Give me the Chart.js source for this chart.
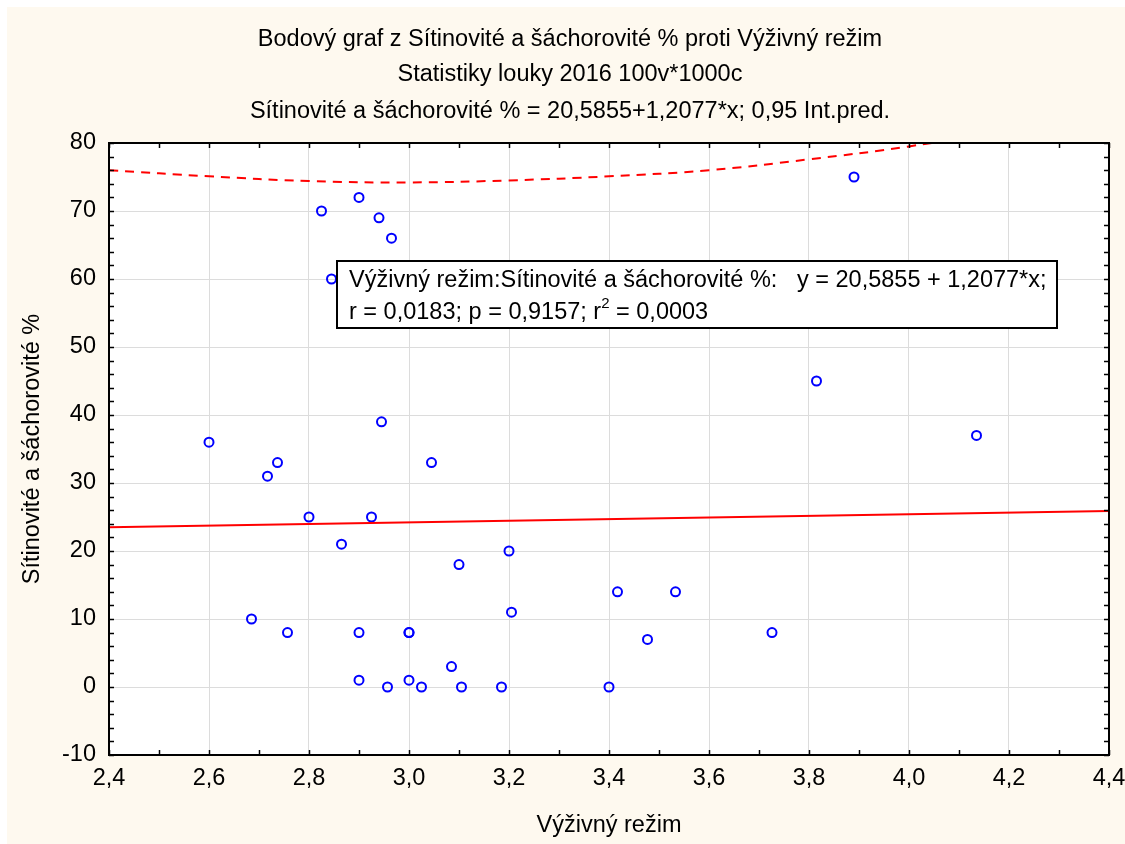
<!DOCTYPE html>
<html>
<head>
<meta charset="utf-8">
<script src="https://cdn.jsdelivr.net/npm/chart.js@4.4.1/dist/chart.umd.min.js"></script>
<style>
  html, body { margin: 0; padding: 0; background: #fff; }
  canvas { display: block; }
</style>
</head>
<body>
<canvas id="scatterChart" width="1125" height="844"></canvas>
<script>
// chart texts
const titleLines = [
  'Bodový graf z Sítinovité a šáchorovité % proti Výživný režim',
  'Statistiky louky 2016 100v*1000c',
  'Sítinovité a šáchorovité % = 20,5855+1,2077*x; 0,95 Int.pred.'
];
const xTitle = 'Výživný režim';
const yTitle = 'Sítinovité a šáchorovité %';
const statLine1 = 'Výživný režim:Sítinovité a šáchorovité %:   y = 20,5855 + 1,2077*x;';
const statLine2 = 'r = 0,0183; p = 0,9157; r';
const statSup = '2';
const statLine2End = ' = 0,0003';

// axis ranges
const xMin = 2.4, xMax = 4.4, xStep = 0.2;
const yMin = -10, yMax = 80, yStep = 10;

const xVals = [2.825, 2.90, 2.94, 2.965, 2.845, 3.89, 2.60, 2.945, 2.737, 2.717,
               3.045, 2.80, 2.925, 2.865, 3.10, 3.20, 2.685, 3.205, 2.757, 2.90,
               3.00, 3.00, 3.085, 2.90, 3.00, 2.957, 3.025, 3.105, 3.185, 3.815,
               4.135, 3.417, 3.533, 3.477, 3.726, 3.40];
const yVals = [70, 72, 69, 66, 60, 75, 36, 39, 33, 31,
               33, 25, 25, 21, 18, 20, 10, 11, 8, 8,
               8, 8, 3, 1, 1, 0, 0, 0, 0, 45,
               37, 14, 14, 7, 8, 0];

// fitted line ends
const fitX = [2.4, 4.4];
const fitY = [23.5, 25.9];

// upper 0.95 prediction band
const bandX = [2.4, 2.6, 2.8, 3.0, 3.2, 3.4, 3.6, 3.8, 4.0, 4.2, 4.4];
const bandY = [76.0, 75.1, 74.4, 74.2, 74.5, 75.1, 76.0, 77.6, 79.5, 82.0, 85.0];

const FONT = '"Liberation Sans", Arial, sans-serif';
const FS = 23.5;
const cream = '#fef9ef';

const pairs = (xs, ys) => xs.map((x, i) => ({ x: x, y: ys[i] }));
const fmt = v => (Math.round(v * 10) / 10).toFixed(1).replace('.', ',');

const backgroundPlugin = {
  id: 'bg',
  beforeDraw(chart) {
    const ctx = chart.ctx, a = chart.chartArea;
    ctx.save();
    ctx.fillStyle = '#ffffff';
    ctx.fillRect(0, 0, chart.width, chart.height);
    ctx.fillStyle = cream;
    ctx.fillRect(7, 7, chart.width - 7, chart.height - 7);
    ctx.fillStyle = '#ffffff';
    ctx.fillRect(a.left, a.top, a.right - a.left, a.bottom - a.top);
    // titles
    ctx.fillStyle = '#000';
    ctx.font = FS + 'px ' + FONT;
    ctx.textAlign = 'center';
    ctx.textBaseline = 'middle';
    const titleY = [40, 75, 112];
    titleLines.forEach((t, i) => ctx.fillText(t, 570, titleY[i]));
    ctx.restore();
  }
};

const framePlugin = {
  id: 'frame',
  afterDatasetsDraw(chart) {
    const ctx = chart.ctx, a = chart.chartArea;
    const xs = chart.scales.x, ys = chart.scales.y;
    ctx.save();
    // inner tick marks
    ctx.strokeStyle = '#000';
    ctx.lineWidth = 1.5;
    ctx.beginPath();
    for (let i = 0; i <= 20; i++) {
      const px = Math.round(xs.getPixelForValue(xMin + i * 0.1)) + 0.5;
      ctx.moveTo(px, a.bottom); ctx.lineTo(px, a.bottom - 5);
      ctx.moveTo(px, a.top); ctx.lineTo(px, a.top + 5);
    }
    for (let i = 0; i <= 45; i++) {
      const py = Math.round(ys.getPixelForValue(yMin + i * 2)) + 0.5;
      ctx.moveTo(a.left, py); ctx.lineTo(a.left + 5, py);
      ctx.moveTo(a.right, py); ctx.lineTo(a.right - 5, py);
    }
    ctx.stroke();
    // frame
    ctx.lineWidth = 2;
    ctx.strokeRect(a.left, a.top, a.right - a.left, a.bottom - a.top);

    // statistics box
    const bx = a.left + 228, by = a.top + 118, bw = 720, bh = 67;
    ctx.fillStyle = '#fff';
    ctx.fillRect(bx, by, bw, bh);
    ctx.strokeRect(bx, by, bw, bh);
    ctx.fillStyle = '#000';
    ctx.font = FS + 'px ' + FONT;
    ctx.textBaseline = 'middle';
    ctx.textAlign = 'left';
    ctx.fillText(statLine1, bx + 12, by + 20);
    ctx.fillText(statLine2, bx + 12, by + 52);
    let w = ctx.measureText(statLine2).width;
    ctx.font = '15px ' + FONT;
    ctx.fillText(statSup, bx + 12 + w, by + 43);
    w += ctx.measureText(statSup).width;
    ctx.font = FS + 'px ' + FONT;
    ctx.fillText(statLine2End, bx + 12 + w, by + 52);
    ctx.restore();
  }
};

const ctx = document.getElementById('scatterChart').getContext('2d');
const scatterChart = new Chart(ctx, {
  type: 'scatter',
  data: {
    datasets: [
      {
        label: 'band',
        type: 'line',
        data: pairs(bandX, bandY),
        borderColor: '#ff0000',
        borderWidth: 2,
        borderDash: [9, 7],
        pointRadius: 0,
        tension: 0.4,
        fill: false
      },
      {
        label: 'fit',
        type: 'line',
        data: pairs(fitX, fitY),
        borderColor: '#ff0000',
        borderWidth: 2,
        pointRadius: 0,
        fill: false
      },
      {
        label: 'data',
        data: pairs(xVals, yVals),
        pointStyle: 'circle',
        pointRadius: 4.5,
        pointBorderWidth: 2,
        pointBorderColor: '#0000ff',
        pointBackgroundColor: 'rgba(0,0,0,0)'
      }
    ]
  },
  options: {
    responsive: false,
    animation: false,
    layout: { padding: { left: 7, right: 16, top: 143, bottom: 3 } },
    plugins: {
      legend: { display: false },
      tooltip: { enabled: false },
      title: { display: false }
    },
    scales: {
      x: {
        type: 'linear',
        min: xMin,
        max: xMax,
        afterFit(scale) {
          scale.height = 86;
          scale.paddingLeft = 0;
          scale.paddingRight = 0;
        },
        ticks: {
          stepSize: xStep,
          color: '#000',
          padding: 9,
          font: { family: FONT, size: FS },
          callback: v => fmt(v)
        },
        grid: { color: '#dcdcdc', drawTicks: false },
        border: { display: false },
        title: {
          display: true,
          text: xTitle,
          color: '#000',
          font: { family: FONT, size: FS },
          padding: { top: 0, bottom: 1 }
        }
      },
      y: {
        type: 'linear',
        min: yMin,
        max: yMax,
        afterFit(scale) {
          scale.width = 102;
          scale.paddingTop = 0;
          scale.paddingBottom = 0;
        },
        ticks: {
          stepSize: yStep,
          color: '#000',
          padding: 13,
          font: { family: FONT, size: FS }
        },
        grid: { color: '#dcdcdc', drawTicks: false },
        border: { display: false },
        title: {
          display: true,
          text: yTitle,
          color: '#000',
          font: { family: FONT, size: FS },
          padding: { top: 11, bottom: 0 }
        }
      }
    }
  },
  plugins: [backgroundPlugin, framePlugin]
});
</script>
</body>
</html>
